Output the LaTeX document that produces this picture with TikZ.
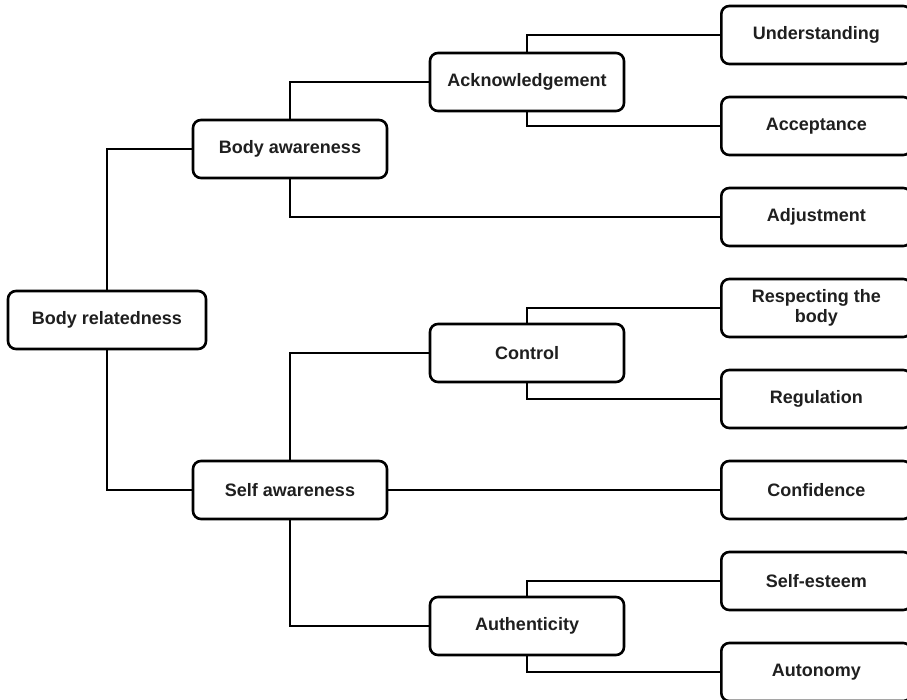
\documentclass[tikz,border=0pt]{standalone}
\usepackage{fontspec}
\setmainfont{Liberation Sans}
\usepackage{tikz}
\tikzset{
    tree-box/.style = {draw=black, fill=white, line width=2.6pt, rectangle, rounded corners=8pt, minimum width=194pt, minimum height=58pt, align=center, text=black!88, font=\bfseries\fontsize{18}{20}\selectfont},
    leaf-box/.style = {tree-box, minimum width=190pt, anchor=west},
    tree-line/.style = {draw=black, line width=2.6pt},
}

\begin{document}
\begin{tikzpicture}[x=1pt, y=-1pt]
\useasboundingbox (0,0) rectangle (907,700);
% main branches
\node[tree-box, minimum width=198pt] (rel) at (107,320) {Body relatedness};
\node[tree-box] (body) at (290,149) {Body awareness};
\node[tree-box] (self) at (290,490) {Self awareness};
\node[tree-box] (ack) at (527,82) {Acknowledgement};
\node[tree-box] (ctrl) at (527,353) {Control};
\node[tree-box] (auth) at (527,626) {Authenticity};
% leaves
\node[leaf-box] (underst) at (720,35) {Understanding};
\node[leaf-box] (accept) at (720,126) {Acceptance};
\node[leaf-box] (adjust) at (720,217) {Adjustment};
\node[leaf-box] (respect) at (720,308) {Respecting the\\body};
\node[leaf-box] (regul) at (720,399) {Regulation};
\node[leaf-box] (confid) at (720,490) {Confidence};
\node[leaf-box] (esteem) at (720,581) {Self-esteem};
\node[leaf-box] (auton) at (720,672) {Autonomy};
% connectors
\draw[tree-line] (rel.north) |- (body.west);
\draw[tree-line] (rel.south) |- (self.west);
\draw[tree-line] (body.north) |- (ack.west);
\draw[tree-line] (body.south) |- (adjust.west);
\draw[tree-line] (ack.north) |- (underst.west);
\draw[tree-line] (ack.south) |- (accept.west);
\draw[tree-line] (self.north) |- (ctrl.west);
\draw[tree-line] (self.east) -- (confid.west);
\draw[tree-line] (self.south) |- (auth.west);
\draw[tree-line] (ctrl.north) |- (respect.west);
\draw[tree-line] (ctrl.south) |- (regul.west);
\draw[tree-line] (auth.north) |- (esteem.west);
\draw[tree-line] (auth.south) |- (auton.west);
\end{tikzpicture}
\end{document}
